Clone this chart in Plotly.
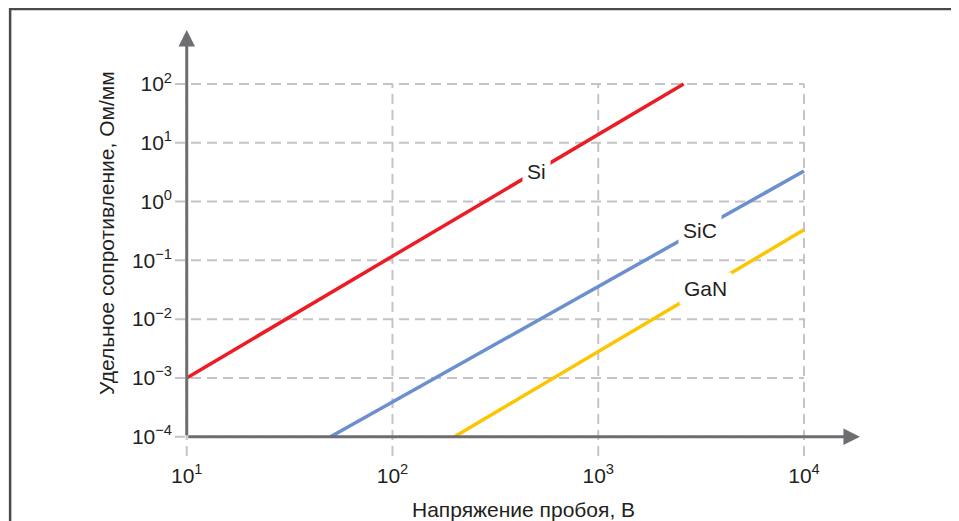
import math
import plotly.graph_objects as go

# ---- data ----
materials = ["Si", "SiC", "GaN"]
si_voltage = [10, 2600]
si_resistance = [1e-3, 1e2]
sic_voltage = [50, 10000]
sic_resistance = [1e-4, 3.3]
gan_voltage = [200, 10000]
gan_resistance = [1e-4, 0.33]

x_ticks = [10, 100, 1000, 10000]
x_tick_labels = ["10<sup>1</sup>", "10<sup>2</sup>", "10<sup>3</sup>", "10<sup>4</sup>"]
y_ticks = [1e-4, 1e-3, 1e-2, 1e-1, 1, 10, 100]
y_tick_labels = ["10<sup>\u22124</sup>", "10<sup>\u22123</sup>", "10<sup>\u22122</sup>",
                 "10<sup>\u22121</sup>", "10<sup>0</sup>", "10<sup>1</sup>", "10<sup>2</sup>"]

x_title = "Напряжение пробоя, В"
y_title = "Удельное сопротивление, Ом/мм"

# ---- style ----
FONT = "Liberation Sans, Arial, sans-serif"
TEXT = "#231f20"
AXIS = "#6d6e71"
GRID = "#c4c4c6"
colors = {"Si": "#ed1c24", "SiC": "#6b8fcf", "GaN": "#fdc400"}

X_RANGE = [0.943, 4.282]   # log10 units
Y_RANGE = [-4.328, 2.952]
X_TIP = 4.272
Y_TIP = 2.918

fig = go.Figure()

# grid lines (dashed), limited to the tick span like the reference
x_left = 10 ** X_RANGE[0]
y_bottom = 10 ** Y_RANGE[0]
for yv in y_ticks:
    fig.add_trace(go.Scatter(x=[x_left, max(x_ticks)], y=[yv, yv], mode="lines",
                             line=dict(color=GRID, width=2, dash="10px,6px"),
                             hoverinfo="skip", showlegend=False, cliponaxis=False))
for xv in x_ticks:
    fig.add_trace(go.Scatter(x=[xv, xv], y=[y_bottom, max(y_ticks)], mode="lines",
                             line=dict(color=GRID, width=2, dash="10px,6px"),
                             hoverinfo="skip", showlegend=False, cliponaxis=False))

# data lines
series = {
    "Si": (si_voltage, si_resistance),
    "SiC": (sic_voltage, sic_resistance),
    "GaN": (gan_voltage, gan_resistance),
}
for name in materials:
    xs, ys = series[name]
    fig.add_trace(go.Scatter(x=xs, y=ys, mode="lines", name=name,
                             line=dict(color=colors[name], width=3.5),
                             showlegend=False, cliponaxis=False))

# axis arrows
x0 = math.log10(min(x_ticks))
y0 = math.log10(min(y_ticks))
fig.add_annotation(x=x0, y=Y_TIP, ax=x0, ay=y0, xref="x", yref="y", axref="x", ayref="y",
                   text="", showarrow=True, arrowhead=2, arrowsize=1.1, arrowwidth=3,
                   arrowcolor=AXIS, standoff=0, startstandoff=0)
fig.add_annotation(x=X_TIP, y=y0, ax=x0, ay=y0, xref="x", yref="y", axref="x", ayref="y",
                   text="", showarrow=True, arrowhead=2, arrowsize=1.1, arrowwidth=3,
                   arrowcolor=AXIS, standoff=0, startstandoff=0)

# series labels on white background
label_pos = {"Si": (2.702, 0.503), "SiC": (3.494, -0.495), "GaN": (3.523, -1.486)}
for name in materials:
    lx, ly = label_pos[name]
    fig.add_annotation(x=lx, y=ly, xref="x", yref="y", text=name, showarrow=False,
                       font=dict(family=FONT, size=21, color=TEXT),
                       bgcolor="white", borderpad=4)

# axis titles
fig.add_annotation(x=0.508, y=-0.126, xref="paper", yref="paper", text=x_title,
                   showarrow=False, xanchor="center", yanchor="middle",
                   font=dict(family=FONT, size=21, color=TEXT))
fig.add_annotation(x=-0.1004, y=0.521, xref="paper", yref="paper", text=y_title,
                   showarrow=False, xanchor="center", yanchor="middle", textangle=-90,
                   font=dict(family=FONT, size=21, color=TEXT))

# outer frame
fig.add_shape(type="rect", xref="paper", yref="paper", x0=-0.240, x1=1.137,
              y0=-0.2, y1=1.0444, line=dict(color="#4a4a4a", width=2.5),
              fillcolor="rgba(0,0,0,0)", layer="above")

# the page body adds an 8px margin, so the figure is 8px smaller and margins shifted
fig.update_layout(
    width=951, height=513,
    margin=dict(l=167, r=97, t=20, b=65),
    paper_bgcolor="white", plot_bgcolor="white",
    font=dict(family=FONT, size=21, color=TEXT),
    showlegend=False,
    xaxis=dict(type="log", range=X_RANGE, tickvals=x_ticks, ticktext=x_tick_labels,
               showgrid=False, zeroline=False, showline=False, ticks="",
               ticklabelstandoff=5, tickfont=dict(family=FONT, size=21, color=TEXT)),
    yaxis=dict(type="log", range=Y_RANGE, tickvals=y_ticks, ticktext=y_tick_labels,
               showgrid=False, zeroline=False, showline=False, ticks="",
               ticklabelstandoff=2, tickfont=dict(family=FONT, size=21, color=TEXT)),
)

fig.write_html("out.html")
